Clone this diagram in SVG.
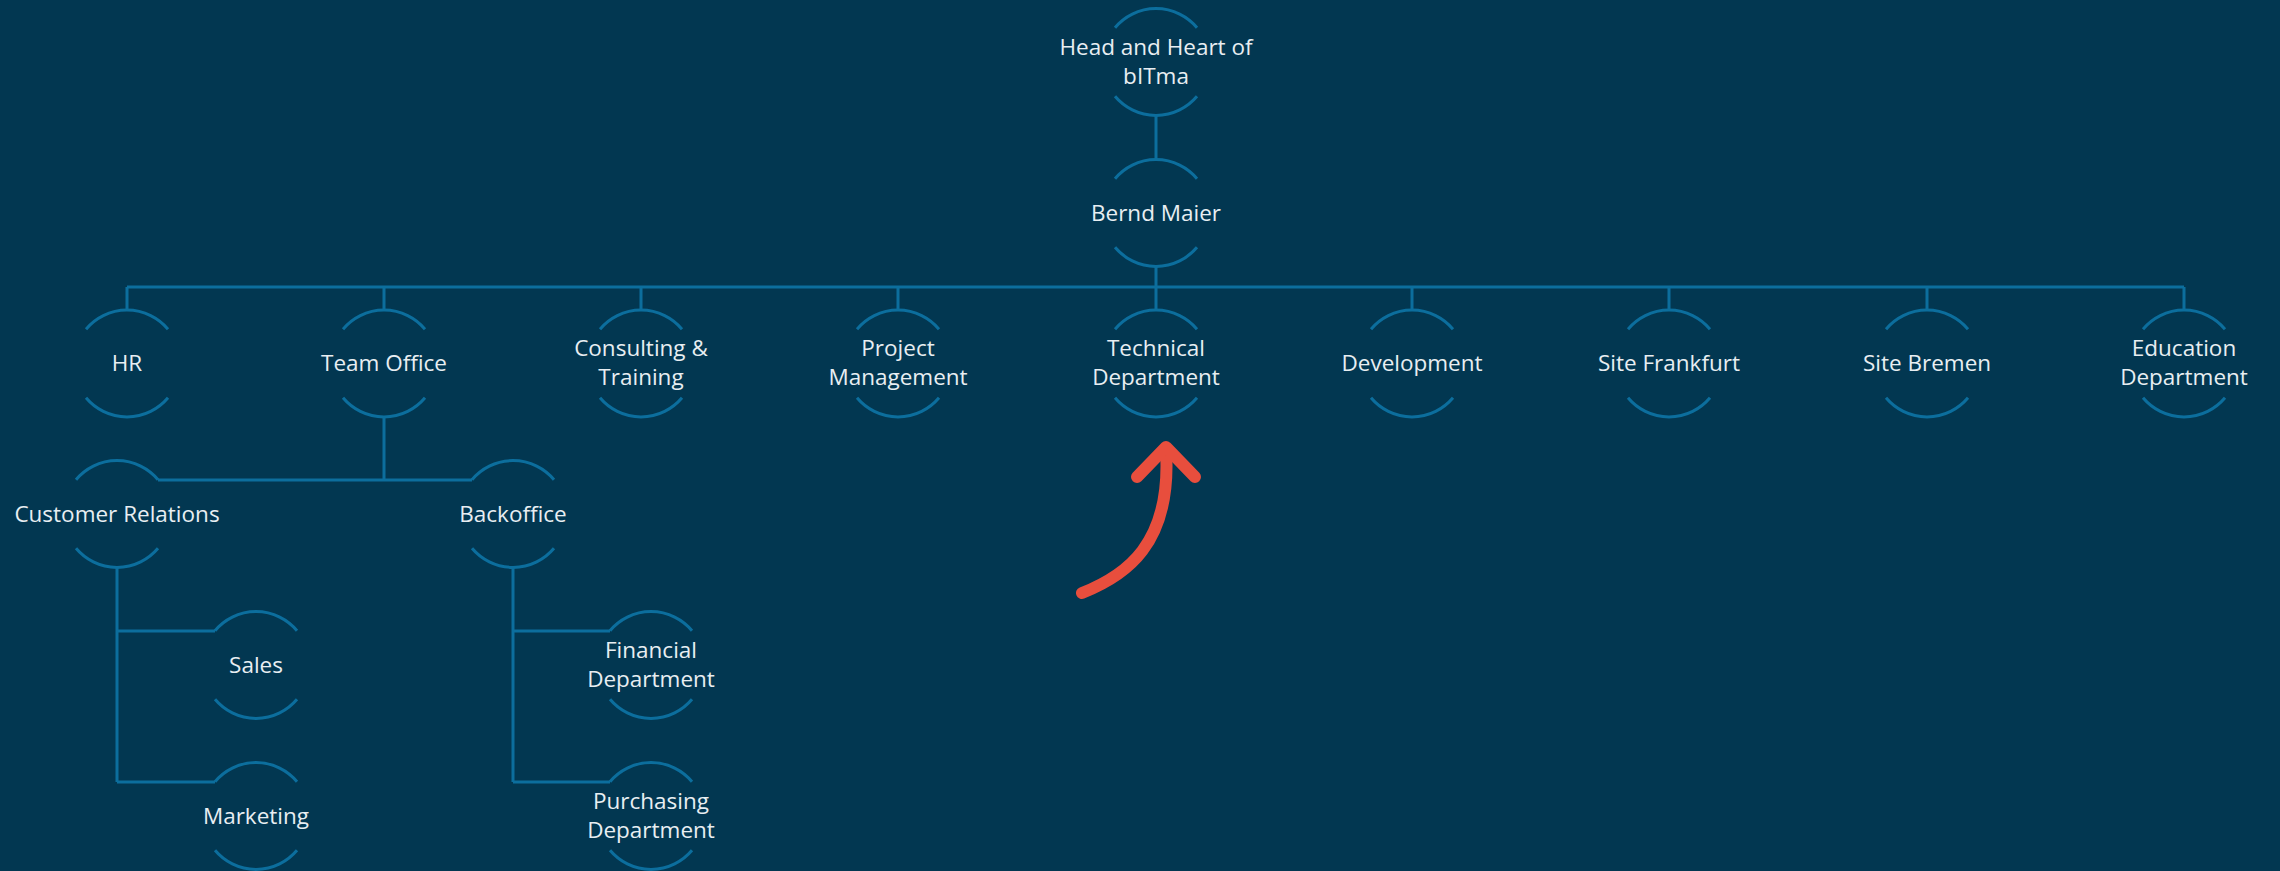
<svg xmlns="http://www.w3.org/2000/svg" xmlns:xlink="http://www.w3.org/1999/xlink" width="2280" height="871" viewBox="0 0 2280 871">
<style>
.bg{fill:#023751}
.arc{fill:none;stroke:#0c6e9d;stroke-width:3}
.ln{fill:none;stroke:#0c6e9d;stroke-width:3}
.t{font-family:"Open Sans","Noto Sans","Liberation Sans",sans-serif;font-size:22.5px;fill:#e8eef2;text-anchor:middle}
.arrow{fill:none;stroke:#e84e3d;stroke-width:12;stroke-linecap:round;stroke-linejoin:round}
</style>
<defs>
<g id="bub">
<path class="arc" d="M-41,-34.3 A53.5,53.5 0 0 1 41,-34.3"/>
<path class="arc" d="M-41,34.3 A53.5,53.5 0 0 0 41,34.3"/>
</g>
</defs>
<rect class="bg" x="0" y="0" width="2280" height="871"/>
<g id="connectors">
<path class="ln" d="M1156,115.5 V159.5"/>
<path class="ln" d="M1156,267 V287 M127,287 H2184"/>
<path class="ln" d="M127,287 V310 M384,287 V310 M641,287 V310 M898,287 V310 M1156,287 V310 M1412,287 V310 M1669,287 V310 M1927,287 V310 M2184,287 V310"/>
<path class="ln" d="M384,417 V480 M158,480 H472"/>
<path class="ln" d="M117,567.5 V782 M117,631 H215 M117,782 H215"/>
<path class="ln" d="M513,567.5 V782 M513,631 H610 M513,782 H610"/>
</g>
<g id="n-head"><use href="#bub" x="1156" y="62"/><text class="t" x="1156" y="55">Head and Heart of</text><text class="t" x="1156" y="84">bITma</text></g>
<g id="n-bernd"><use href="#bub" x="1156" y="213"/><text class="t" x="1156" y="221">Bernd Maier</text></g>
<g id="n-hr"><use href="#bub" x="127" y="363.5"/><text class="t" x="127" y="371">HR</text></g>
<g id="n-team"><use href="#bub" x="384" y="363.5"/><text class="t" x="384" y="371">Team Office</text></g>
<g id="n-consult"><use href="#bub" x="641" y="363.5"/><text class="t" x="641" y="356">Consulting &amp;</text><text class="t" x="641" y="385">Training</text></g>
<g id="n-project"><use href="#bub" x="898" y="363.5"/><text class="t" x="898" y="356">Project</text><text class="t" x="898" y="385">Management</text></g>
<g id="n-tech"><use href="#bub" x="1156" y="363.5"/><text class="t" x="1156" y="356">Technical</text><text class="t" x="1156" y="385">Department</text></g>
<g id="n-dev"><use href="#bub" x="1412" y="363.5"/><text class="t" x="1412" y="371">Development</text></g>
<g id="n-frank"><use href="#bub" x="1669" y="363.5"/><text class="t" x="1669" y="371">Site Frankfurt</text></g>
<g id="n-bremen"><use href="#bub" x="1927" y="363.5"/><text class="t" x="1927" y="371">Site Bremen</text></g>
<g id="n-edu"><use href="#bub" x="2184" y="363.5"/><text class="t" x="2184" y="356">Education</text><text class="t" x="2184" y="385">Department</text></g>
<g id="n-cr"><use href="#bub" x="117" y="514"/><text class="t" x="117" y="522">Customer Relations</text></g>
<g id="n-back"><use href="#bub" x="513" y="514"/><text class="t" x="513" y="522">Backoffice</text></g>
<g id="n-sales"><use href="#bub" x="256" y="665"/><text class="t" x="256" y="673">Sales</text></g>
<g id="n-marketing"><use href="#bub" x="256" y="816"/><text class="t" x="256" y="824">Marketing</text></g>
<g id="n-fin"><use href="#bub" x="651" y="665"/><text class="t" x="651" y="658">Financial</text><text class="t" x="651" y="687">Department</text></g>
<g id="n-purch"><use href="#bub" x="651" y="816"/><text class="t" x="651" y="809">Purchasing</text><text class="t" x="651" y="838">Department</text></g>
<g id="arrow">
<path class="arrow" d="M1082,593 C1125,576 1172,545 1166,450"/>
<path class="arrow" d="M1137,477 L1166,447 L1195,477"/>
</g>
</svg>
